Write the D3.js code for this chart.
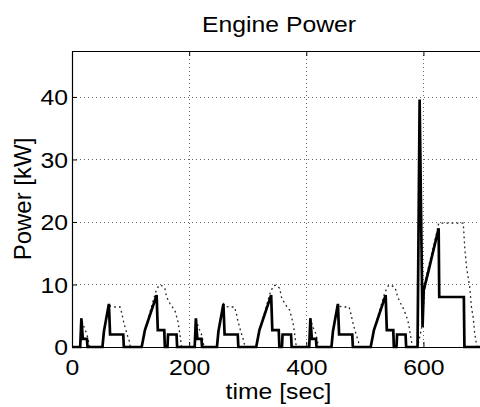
<!DOCTYPE html>
<html>
<head>
<meta charset="utf-8">
<script src="https://cdn.jsdelivr.net/npm/d3@7"></script>
<style>
  body { margin: 0; background: #fff; }
  text { font-family: "Liberation Sans", Arial, Helvetica, sans-serif; fill: #000; }
</style>
</head>
<body>
<svg id="chart" width="480" height="407"></svg>
<script>
// Engine power over three urban cycles followed by the start of the extra-urban part
const timeSec = [
  0, 14, 16, 18.5, 25.5, 26.5, 52, 54.5, 63, 65, 87.5, 88.5, 119, 124.5, 144.5, 146.5, 157.5, 158.5, 163, 164, 178.5, 179.5,
  209.5, 211.5, 214, 221, 222, 247.5, 250, 258.5, 260.5, 283, 284, 314.5, 320, 340, 342, 353, 354, 358.5, 359.5, 374, 375,
  405, 407, 409.5, 416.5, 417.5, 443, 445.5, 454, 456, 478.5, 479.5, 510, 515.5, 535.5, 537.5, 548.5, 549.5, 554, 555, 569.5, 570.5,
  590, 593.5, 598.5, 600.5, 609, 626, 627, 669, 670, 700
];
const enginePower = [
  0, 0, 4.6, 1.3, 1.3, 0, 0, 2.5, 6.9, 2.0, 2.0, 0, 0, 2.7, 8.3, 2.7, 2.7, 0, 0, 2.0, 2.0, 0,
  0, 4.6, 1.3, 1.3, 0, 0, 2.5, 6.9, 2.0, 2.0, 0, 0, 2.7, 8.3, 2.7, 2.7, 0, 0, 2.0, 2.0, 0,
  0, 4.6, 1.3, 1.3, 0, 0, 2.5, 6.9, 2.0, 2.0, 0, 0, 2.7, 8.3, 2.7, 2.7, 0, 0, 2.0, 2.0, 0,
  0, 39.6, 3.2, 9.1, 12.3, 19.0, 8.0, 8.0, 0, 0
];

// Power demand at the wheels (dotted trace)
const demandTime = [
  0, 14, 16, 19, 22, 25, 27.5, 29, 30,
  52, 54.5, 63, 66, 74, 82, 85, 87.5, 90.5, 94.5, 98, 99.5,
  119, 124.5, 142.5, 148, 152, 158.5, 161.5, 167, 172, 175.5, 178.5, 181.5, 184, 185.5, 187,
  209.5, 211.5, 214.5, 217.5, 220.5, 223, 224.5, 225.5,
  247.5, 250, 258.5, 261.5, 269.5, 277.5, 280.5, 283, 286, 290, 293.5, 295,
  314.5, 320, 338.5, 344, 348, 354.5, 357.5, 363, 368, 371.5, 374.5, 377.5, 380, 381.5, 383,
  405, 407, 410, 413, 416, 418.5, 420, 421,
  443, 445.5, 454, 457, 465, 473, 476, 478.5, 481.5, 485.5, 489, 490.5,
  510, 515.5, 534, 540, 545, 552, 556, 561, 566, 569, 572, 575, 577.5, 579.5, 581,
  590, 598, 603, 609, 623, 626, 668, 670.5, 673.5, 679, 682, 685, 687.5, 690.5, 692, 700
];
const demandPower = [
  0, 0, 4.6, 3.6, 2.8, 2.2, 1.2, 0.5, 0,
  0, 2.5, 6.9, 6.5, 6.4, 6.4, 5.4, 4.3, 3.2, 1.9, 0.9, 0,
  0, 2.7, 8.7, 9.8, 9.9, 9.4, 8.0, 7.0, 6.3, 5.9, 4.9, 3.8, 2.2, 1.1, 0,
  0, 4.6, 3.6, 2.8, 2.2, 1.2, 0.5, 0,
  0, 2.5, 6.9, 6.5, 6.4, 6.4, 5.4, 4.3, 3.2, 1.9, 0.9, 0,
  0, 2.7, 8.7, 9.8, 9.9, 9.4, 8.0, 7.0, 6.3, 5.9, 4.9, 3.8, 2.2, 1.1, 0,
  0, 4.6, 3.6, 2.8, 2.2, 1.2, 0.5, 0,
  0, 2.5, 6.9, 6.5, 6.4, 6.4, 5.4, 4.3, 3.2, 1.9, 0.9, 0,
  0, 2.7, 8.7, 9.8, 9.9, 9.4, 8.0, 7.0, 6.1, 5.4, 4.6, 3.6, 2.1, 1.0, 0,
  0, 3.5, 10.5, 12.9, 18.4, 19.8, 19.8, 16.0, 12.8, 9.6, 6.4, 4.7, 2.2, 0.5, 0, 0
];

const xTicks = [0, 200, 400, 600];
const yTicks = [0, 10, 20, 30, 40];
const xGrid = [200, 400, 600];
const yGrid = [10, 20, 30, 40];

const plotLeft = 72, plotTop = 51, plotBottom = 347, plotRight = 482;
const fontSize = 22.5;     // horizontal text, drawn slightly widened
const widen = 1.1;
const yLabelSize = 24;

const svg = d3.select("#chart");

const x = d3.scaleLinear().domain([0, 700]).range([plotLeft, plotRight]);
const y = d3.scaleLinear().domain([0, 47.35]).range([plotBottom, plotTop]);

// grid
const grid = svg.append("g")
  .attr("stroke", "#666")
  .attr("stroke-width", 1)
  .attr("stroke-dasharray", "1,3");
grid.selectAll("line.h").data(yGrid).join("line")
  .attr("class", "h")
  .attr("x1", plotLeft).attr("x2", plotRight)
  .attr("y1", d => Math.round(y(d)) + 0.5).attr("y2", d => Math.round(y(d)) + 0.5);
grid.selectAll("line.v").data(xGrid).join("line")
  .attr("class", "v")
  .attr("y1", plotTop).attr("y2", plotBottom)
  .attr("x1", d => Math.round(x(d)) + 0.5).attr("x2", d => Math.round(x(d)) + 0.5);

// series
const demandLine = d3.line().x((d, i) => x(demandTime[i])).y(d => y(d));
svg.append("path")
  .attr("d", demandLine(demandPower))
  .attr("fill", "none")
  .attr("stroke", "#222")
  .attr("stroke-width", 1.3)
  .attr("stroke-dasharray", "1.8,3.2");

const engineLine = d3.line().x((d, i) => x(timeSec[i])).y(d => y(d));
svg.append("path")
  .attr("d", engineLine(enginePower))
  .attr("fill", "none")
  .attr("stroke", "#000")
  .attr("stroke-width", 2.7)
  .attr("stroke-linejoin", "miter");

// axes with inward ticks
const xAxis = svg.append("g")
  .attr("transform", `translate(0,${plotBottom})`)
  .call(d3.axisBottom(x).tickValues(xTicks).tickFormat(d3.format("d"))
    .tickSizeInner(-5).tickSizeOuter(0).tickPadding(12));
const xTop = svg.append("g")
  .attr("transform", `translate(0,${plotTop})`)
  .call(d3.axisTop(x).tickValues(xTicks).tickFormat("")
    .tickSizeInner(-5).tickSizeOuter(0));
const yAxis = svg.append("g")
  .attr("transform", `translate(${plotLeft},0)`)
  .call(d3.axisLeft(y).tickValues(yTicks).tickFormat(d3.format("d"))
    .tickSizeInner(-5).tickSizeOuter(0).tickPadding(4));

[xAxis, xTop, yAxis].forEach(g => {
  g.attr("font-family", null).attr("font-size", null);
  g.select(".domain").attr("stroke", "#000").attr("stroke-width", 1.2);
  g.selectAll(".tick line").attr("stroke", "#000");
  g.selectAll("text").style("font-size", fontSize + "px");
});
xAxis.selectAll("text").attr("transform", `scale(${widen},1)`);
yAxis.selectAll("text").attr("dy", "0.35em").attr("x", -4 / widen)
  .attr("transform", `scale(${widen},1)`);

// title and axis labels
svg.append("text")
  .attr("transform", `translate(279,32) scale(${widen},1)`)
  .attr("text-anchor", "middle")
  .style("font-size", fontSize + "px")
  .text("Engine Power");

svg.append("text")
  .attr("transform", `translate(278.5,399) scale(${widen},1)`)
  .attr("text-anchor", "middle")
  .style("font-size", fontSize + "px")
  .text("time [sec]");

svg.append("text")
  .attr("transform", `translate(31,${(plotTop + plotBottom) / 2}) rotate(-90)`)
  .attr("text-anchor", "middle")
  .style("font-size", yLabelSize + "px")
  .text("Power [kW]");
</script>
</body>
</html>
